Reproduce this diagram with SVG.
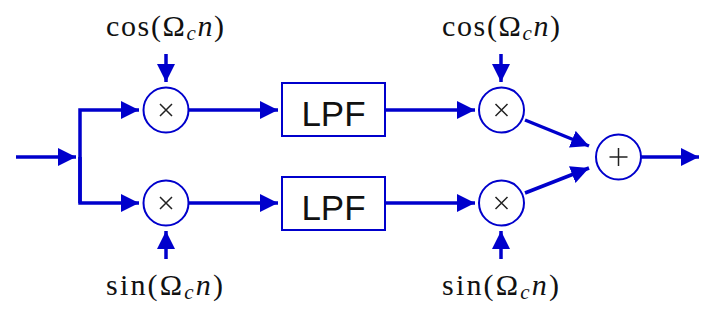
<svg xmlns="http://www.w3.org/2000/svg" width="720" height="318" viewBox="0 0 720 318">
<defs>
<marker id="ah" markerUnits="userSpaceOnUse" markerWidth="20" markerHeight="18" refX="18" refY="9" orient="auto" viewBox="0 0 20 18">
<path d="M0,0 L18,9 L0,18 Z" fill="#0000cc"/>
</marker>
<style>
.w{stroke:#0000cc;stroke-width:3.5;fill:none;marker-end:url(#ah)}
.c{stroke:#0000cc;stroke-width:2;fill:#fff}
.s{stroke:#222;stroke-width:1.5}
.lbl{font-family:"Liberation Serif","DejaVu Serif",serif;font-size:30px;fill:#111}
.it{font-style:italic}
.box{stroke:#0000cc;stroke-width:2;fill:#fff}
.lpf{font-family:"Liberation Sans",Arial,sans-serif;font-size:35px;fill:#111;text-anchor:middle}
</style>
</defs>
<rect width="720" height="318" fill="#fff"/>
<g id="connectors">
<path class="w" d="M16,157 L76,157"/>
<path class="w" d="M80,203 L80,110 L139,110"/>
<path class="w" d="M80,157 L80,203 L139,203"/>
<path class="w" d="M166,54 L166,82"/>
<path class="w" d="M166,259 L166,231"/>
<path class="w" d="M188,110 L278,110"/>
<path class="w" d="M188,203 L278,203"/>
<path class="w" d="M385,110 L475,110"/>
<path class="w" d="M385,203 L475,203"/>
<path class="w" d="M501,54 L501,82"/>
<path class="w" d="M501,259 L501,231"/>
<path class="w" d="M525,120 L589,146"/>
<path class="w" d="M525,193 L589,168"/>
<path class="w" d="M641,157 L699,157"/>
</g>
<g id="mul1"><circle class="c" cx="166" cy="110" r="22.5"/><path class="s" d="M160,104 L172,116 M172,104 L160,116"/></g>
<g id="mul2"><circle class="c" cx="166" cy="203" r="22.5"/><path class="s" d="M160,197 L172,209 M172,197 L160,209"/></g>
<g id="lpf1"><rect class="box" x="282" y="83" width="103" height="53"/><text class="lpf" x="333.5" y="126">LPF</text></g>
<g id="lpf2"><rect class="box" x="282" y="177" width="103" height="53"/><text class="lpf" x="333.5" y="220">LPF</text></g>
<g id="mul3"><circle class="c" cx="501.5" cy="110" r="22.5"/><path class="s" d="M495.5,104 L507.5,116 M507.5,104 L495.5,116"/></g>
<g id="mul4"><circle class="c" cx="501.5" cy="203" r="22.5"/><path class="s" d="M495.5,197 L507.5,209 M507.5,197 L495.5,209"/></g>
<g id="sum"><circle class="c" cx="618.5" cy="157" r="22.5"/><path class="s" d="M618.5,148 L618.5,166 M609.5,157 L627.5,157"/></g>
<g id="lbl1"><text class="lbl" x="106" y="36" textLength="118" lengthAdjust="spacing">cos(Ω<tspan class="it" font-size="21" dy="4">c</tspan><tspan class="it" dy="-4">n</tspan>)</text></g>
<g id="lbl2"><text class="lbl" x="106" y="295" textLength="117" lengthAdjust="spacing">sin(Ω<tspan class="it" font-size="21" dy="4">c</tspan><tspan class="it" dy="-4">n</tspan>)</text></g>
<g id="lbl3"><text class="lbl" x="442" y="36" textLength="118" lengthAdjust="spacing">cos(Ω<tspan class="it" font-size="21" dy="4">c</tspan><tspan class="it" dy="-4">n</tspan>)</text></g>
<g id="lbl4"><text class="lbl" x="442" y="295" textLength="117" lengthAdjust="spacing">sin(Ω<tspan class="it" font-size="21" dy="4">c</tspan><tspan class="it" dy="-4">n</tspan>)</text></g>
</svg>
